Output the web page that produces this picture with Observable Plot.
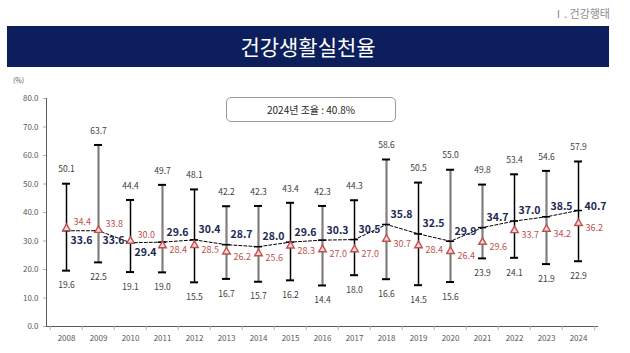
<!DOCTYPE html>
<html>
<head>
<meta charset="utf-8">
<script src="https://cdn.jsdelivr.net/npm/d3@7"></script>
<script src="https://cdn.jsdelivr.net/npm/@observablehq/plot@0.6"></script>
<style>
  html, body { margin: 0; padding: 0; background: #fff; }
  body { width: 630px; height: 353px; position: relative; overflow: hidden;
         font-family: "Noto Sans CJK KR", "Noto Sans", sans-serif; }
  #section { position: absolute; right: 20px; top: 5px; font-size: 11px; color: #8c8c8c; }
  #banner { position: absolute; left: 7px; top: 26px; width: 602px; height: 41px; background: #0c1f5c;
            color: #fff; font-size: 21px; text-align: center; line-height: 41px; }
  #unit { position: absolute; left: 13px; top: 75px; font-size: 7px; color: #595959; }
  #note { position: absolute; left: 226px; top: 97px; width: 168px; height: 23px; border: 1px solid #9a9a9a;
          border-radius: 5px; font-size: 10px; color: #262626; text-align: center; line-height: 23px; background: #fff; }
  #chart { position: absolute; left: 0; top: 68px; }
  #chart g[aria-label*="axis"] path, #chart g[aria-label*="axis"] line { stroke: #b0b0b0; }
</style>
</head>
<body>
<div id="section">Ⅰ. 건강행태</div>
<div id="banner">건강생활실천율</div>
<div id="chart"></div>
<div id="unit">(%)</div>
<div id="note">2024년 조율 : 40.8%</div>
<script>
const years  = [2008, 2009, 2010, 2011, 2012, 2013, 2014, 2015, 2016, 2017, 2018, 2019, 2020, 2021, 2022, 2023, 2024];
const maxVal = [50.1, 63.7, 44.4, 49.7, 48.1, 42.2, 42.3, 43.4, 42.3, 44.3, 58.6, 50.5, 55.0, 49.8, 53.4, 54.6, 57.9];
const minVal = [19.6, 22.5, 19.1, 19.0, 15.5, 16.7, 15.7, 16.2, 14.4, 18.0, 16.6, 14.5, 15.6, 23.9, 24.1, 21.9, 22.9];
const meanVal = [33.6, 33.6, 29.4, 29.6, 30.4, 28.7, 28.0, 29.6, 30.3, 30.5, 35.8, 32.5, 29.9, 34.7, 37.0, 38.5, 40.7];
const redVal  = [34.4, 33.8, 30.0, 28.4, 28.5, 26.2, 25.6, 28.3, 27.0, 27.0, 30.7, 28.4, 26.4, 29.6, 33.7, 34.2, 36.2];
const barTone = ["black","gray","black","gray","black","gray","gray","black","gray","black","gray","black","gray","gray","black","gray","black"];
const yTicks = [0, 10, 20, 30, 40, 50, 60, 70, 80];

const rows = years.map((year, i) => ({
  year, max: maxVal[i], min: minVal[i], mean: meanVal[i], red: redVal[i], tone: barTone[i]
}));

const W = 630, H = 285, mL = 46, mR = 33;
const bw = (W - mL - mR) / years.length;
const fmt = d => d.toFixed(1);
const NAVY = "#1c2a52", RED = "#c0504d", GRAYTXT = "#404040";

const early = rows.filter(d => d.year <= 2010);
const later = rows.filter(d => d.year > 2010 && d.year < 2024);
const last = rows.filter(d => d.year === 2024);

const chart = Plot.plot({
  width: W, height: H,
  marginTop: 30, marginBottom: 27, marginLeft: mL, marginRight: mR,
  style: { color: "#595959", fontFamily: "'Noto Sans CJK KR', 'Noto Sans', sans-serif", fontSize: "8px", background: "transparent" },
  x: { type: "band", domain: years, paddingInner: 0, paddingOuter: 0, tickSize: 0, tickPadding: 9, tickFormat: d => String(d), line: true, label: null },
  y: { domain: [0, 80], ticks: yTicks, tickFormat: fmt, tickSize: 3, tickPadding: 5, line: true, label: null },
  marks: [
    // category boundary ticks on the x axis
    Plot.ruleX(years, { x: d => d, dx: -bw / 2, y1: 0, y2: -1.5, stroke: "#b0b0b0" }),
    Plot.ruleX(years.slice(-1), { x: d => d, dx: bw / 2, y1: 0, y2: -1.5, stroke: "#b0b0b0" }),
    // range bars
    Plot.ruleX(rows.filter(d => d.tone === "gray"), { x: "year", y1: "min", y2: "max", stroke: "#7f7f7f", strokeWidth: 2.2 }),
    Plot.ruleX(rows.filter(d => d.tone === "black"), { x: "year", y1: "min", y2: "max", stroke: "#000", strokeWidth: 1.5 }),
    Plot.tickY(rows, { x: "year", y: "max", insetLeft: 12, insetRight: 12, stroke: "#000", strokeWidth: 2 }),
    Plot.tickY(rows, { x: "year", y: "min", insetLeft: 12, insetRight: 12, stroke: "#000", strokeWidth: 2 }),
    // mean line
    Plot.line(rows, { x: "year", y: "mean", stroke: "#000", strokeWidth: 1, strokeDasharray: "3,2" }),
    Plot.tickY(rows, { x: "year", y: "mean", insetLeft: 12, insetRight: 12, stroke: "#000", strokeWidth: 1.5 }),
    // red series
    Plot.dot(rows, { x: "year", y: "red", symbol: "triangle", r: 2.8, stroke: RED, fill: "#f6dada", strokeWidth: 1.4 }),
    // labels
    Plot.text(rows, { x: "year", y: "max", text: d => fmt(d.max), dy: -14, fill: GRAYTXT, fontSize: 8.5 }),
    Plot.text(rows, { x: "year", y: "min", text: d => fmt(d.min), dy: 15, fill: GRAYTXT, fontSize: 8.5 }),
    Plot.text(early, { x: "year", y: "mean", text: d => fmt(d.mean), dx: 4, dy: 10, textAnchor: "start", fill: NAVY, fontSize: 10.5, fontWeight: "bold" }),
    Plot.text(later, { x: "year", y: "mean", text: d => fmt(d.mean), dx: 4, dy: -10, textAnchor: "start", fill: NAVY, fontSize: 10.5, fontWeight: "bold" }),
    Plot.text(last, { x: "year", y: "mean", text: d => fmt(d.mean), dx: 6, dy: -4, textAnchor: "start", fill: NAVY, fontSize: 10.5, fontWeight: "bold" }),
    Plot.text(early, { x: "year", y: "red", text: d => fmt(d.red), dx: 7, dy: -6, textAnchor: "start", fill: RED, fontSize: 9 }),
    Plot.text(rows.filter(d => d.year > 2010), { x: "year", y: "red", text: d => fmt(d.red), dx: 7, dy: 5, textAnchor: "start", fill: RED, fontSize: 9 })
  ]
});
document.getElementById("chart").appendChild(chart);
</script>
</body>
</html>
